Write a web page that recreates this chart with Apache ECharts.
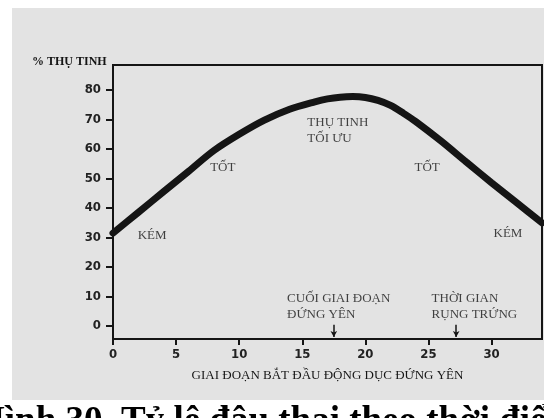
<!DOCTYPE html>
<html>
<head>
<meta charset="utf-8">
<script src="https://cdn.jsdelivr.net/npm/echarts@6/dist/echarts.min.js"></script>
<style>
html,body{margin:0;padding:0;background:#fff;}
#c{width:544px;height:418px;}
</style>
</head>
<body>
<div id="c"></div>
<script>
// Data
const curveX = [0, 2, 4, 6, 8, 10, 12, 14, 16, 17, 18, 19, 20, 21, 22, 23, 24, 26, 28, 30, 32, 34];
const curveY = [31.5, 38.5, 45.5, 52.5, 59.5, 65, 69.8, 73.5, 76, 77, 77.6, 77.8, 77.5, 76.5, 74.8, 72.2, 69.3, 62.7, 55.6, 48.6, 41.8, 35];
const yTicks = [0, 10, 20, 30, 40, 50, 60, 70, 80];
const xTicks = [0, 5, 10, 15, 20, 25, 30];
const zoneLabels = [
  {text: 'KÉM', x: 3.1, y: 30.5},
  {text: 'TỐT', x: 8.7, y: 53.6},
  {text: 'TỐT', x: 24.9, y: 53.6},
  {text: 'KÉM', x: 31.3, y: 31.5}
];
const leftLabels = [
  {text: 'THỤ TINH\nTỐI ƯU', x: 15.4, y: 66.3},
  {text: 'CUỐI GIAI ĐOẠN\nĐỨNG YÊN', x: 13.8, y: 6.5},
  {text: 'THỜI GIAN\nRỤNG TRỨNG', x: 25.25, y: 6.5}
];
const arrowsX = [17.5, 27.2];
const yTitle = '% THỤ TINH';
const xTitle = 'GIAI ĐOẠN BẮT ĐẦU ĐỘNG DỤC ĐỨNG YÊN';
const caption = 'Hình 30. Tỷ lệ đậu thai theo thời điểm phối giống';

const serif = "'Liberation Serif','DejaVu Serif',serif";
const narrow = "'Liberation Sans Narrow','DejaVu Sans Condensed','Liberation Sans',sans-serif";
const ink = '#151515';

const chart = echarts.init(document.getElementById('c'));
chart.setOption({
  animation: false,
  backgroundColor: '#fff',
  graphic: [
    {type: 'rect', z: -10, shape: {x: 12, y: 8, width: 532, height: 392}, style: {fill: '#e3e3e3'}},
    {type: 'text', left: 32, top: 56, style: {text: yTitle, font: 'bold 12px ' + serif, fill: ink}},
    {type: 'text', x: -24, y: 404, z: 10, style: {text: caption, font: 'bold 37px ' + serif, fill: '#000', verticalAlign: 'top', align: 'left'}}
  ],
  grid: {left: 113, right: 2, top: 65, bottom: 79, show: true, borderColor: ink, borderWidth: 2, backgroundColor: 'transparent'},
  xAxis: {
    type: 'value', min: 0, max: 34,
    name: xTitle, nameLocation: 'middle', nameGap: 30,
    nameTextStyle: {fontFamily: serif, fontSize: 13, color: ink},
    axisLine: {onZero: false, lineStyle: {color: ink, width: 2}},
    axisTick: {customValues: xTicks, length: 6, lineStyle: {color: ink, width: 2}},
    axisLabel: {customValues: xTicks, fontFamily: narrow, fontWeight: 'bold', fontSize: 13, color: '#222', margin: 9},
    splitLine: {show: false}
  },
  yAxis: {
    type: 'value', min: -4.4, max: 88.5,
    axisLine: {show: true, onZero: false, lineStyle: {color: ink, width: 2}},
    axisTick: {show: true, customValues: yTicks, length: 7, lineStyle: {color: ink, width: 2}},
    axisLabel: {customValues: yTicks, fontFamily: narrow, fontWeight: 'bold', fontSize: 13, color: '#222', margin: 12},
    splitLine: {show: false}
  },
  series: [
    {
      type: 'line', smooth: 0.3, symbol: 'none',
      data: curveX.map((x, i) => [x, curveY[i]]),
      lineStyle: {color: ink, width: 7, cap: 'round'},
      markLine: {
        silent: true, symbol: ['none', 'arrow'], symbolSize: [5, 6],
        label: {show: false},
        lineStyle: {color: ink, width: 1.5, type: 'solid'},
        data: arrowsX.map(x => [{coord: [x, 0.4]}, {coord: [x, -3.7]}])
      }
    },
    {
      type: 'scatter', symbolSize: 0, silent: true,
      data: zoneLabels.map(d => ({value: [d.x, d.y], label: {formatter: d.text}})),
      label: {show: true, position: 'inside', fontFamily: serif, fontSize: 13, color: ink}
    },
    {
      type: 'scatter', symbolSize: 0, silent: true,
      data: leftLabels.map(d => ({value: [d.x, d.y], label: {formatter: d.text}})),
      label: {show: true, position: 'right', distance: 0, align: 'left', fontFamily: serif, fontSize: 13, lineHeight: 16, color: ink}
    }
  ]
});
</script>
</body>
</html>
